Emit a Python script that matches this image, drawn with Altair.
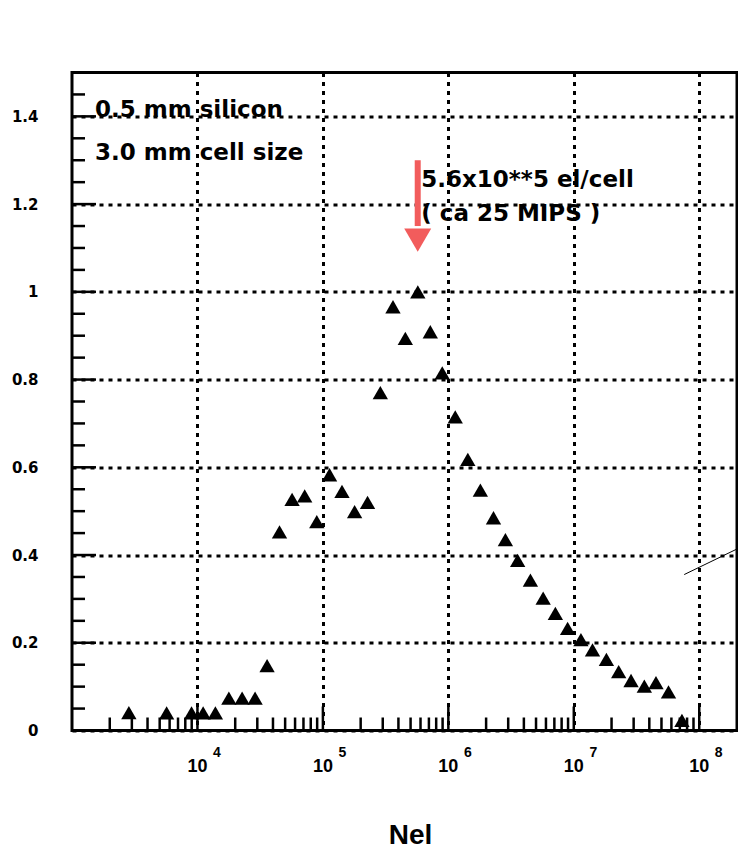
import altair as alt
import pandas as pd

# ---- data ----
nel = [2840, 5680, 8970, 11100, 13900, 17800, 22700, 28800, 35900, 45100,
       56800, 71600, 89400, 113000, 142000, 179000, 227000, 287000, 362000, 454000,
       571000, 718000, 894000, 1135000, 1430000, 1800000, 2290000, 2850000, 3570000, 4510000,
       5700000, 7130000, 8930000, 11400000, 14100000, 18200000, 22800000, 28600000, 36500000, 45200000,
       56900000, 72800000]
frac = [0.041, 0.040, 0.040, 0.040, 0.040, 0.074, 0.074, 0.074, 0.148, 0.453,
        0.527, 0.535, 0.476, 0.583, 0.545, 0.499, 0.520, 0.770, 0.966, 0.894,
        1.000, 0.909, 0.815, 0.715, 0.618, 0.548, 0.485, 0.435, 0.388, 0.343,
        0.302, 0.267, 0.233, 0.207, 0.184, 0.162, 0.134, 0.114, 0.101, 0.109,
        0.088, 0.023]

decades = [1e4, 1e5, 1e6, 1e7, 1e8]
decade_base = ["10", "10", "10", "10", "10"]
decade_exp = ["4", "5", "6", "7", "8"]
x_minor = [k * 10 ** e for e in range(3, 8) for k in range(2, 10)]
y_major = [0, 0.2, 0.4, 0.6, 0.8, 1.0, 1.2, 1.4]
y_minor = [round(0.05 * i, 2) for i in range(1, 30) if i % 4 != 0]

notes_text = ["0.5 mm silicon", "3.0 mm cell size", "5.6x10**5 el/cell", "( ca 25 MIPS )"]
notes_x = [1525, 1525, 608000, 608000]
notes_y = [1.399, 1.301, 1.240, 1.161]

arrow_x = [570000]
arrow_top = [1.30]
arrow_base = [1.15]
arrow_head = [1.118]

stray_x = [75900000]
stray_x2 = [237000000]
stray_y = [0.3555]
stray_y2 = [0.424]

W, H = 665, 658
xscale = alt.Scale(type="log", domain=[1000, 2e8])
yscale = alt.Scale(domain=[0, 1.5])

df = pd.DataFrame({"nel": nel, "frac": frac})

points = alt.Chart(df).mark_point(
    shape="triangle-up", filled=True, size=235, color="black", opacity=1
).encode(
    x=alt.X("nel:Q", scale=xscale, title="Nel",
            axis=alt.Axis(values=decades, grid=True, labels=False, ticks=False,
                          domain=False, title="Nel", titleFont="Liberation Sans",
                          titleFontSize=28, titleFontWeight="bold", titleColor="black",
                          titleX=338, titleY=113, titleBaseline="alphabetic",
                          titleAlign="center")),
    y=alt.Y("frac:Q", scale=yscale, title=" ",
            axis=alt.Axis(values=y_major, grid=True, ticks=False, domain=False,
                          format="~g", labelFont="DejaVu Sans", labelFontSize=15,
                          labelFontWeight="bold", labelColor="black", labelPadding=34,
                          title=" ")),
)

xmin_df = pd.DataFrame({"v": x_minor})
xmaj_df = pd.DataFrame({"v": decades, "b": decade_base, "e": decade_exp})
ymin_df = pd.DataFrame({"v": y_minor})
ymaj_df = pd.DataFrame({"v": y_major})

xminor_ticks = alt.Chart(xmin_df).mark_rule(color="black", strokeWidth=2.5).encode(
    x=alt.X("v:Q", scale=xscale, title="Nel"), y=alt.value(H), y2=alt.value(H - 13))
xmajor_ticks = alt.Chart(xmaj_df).mark_rule(color="black", strokeWidth=2.5).encode(
    x=alt.X("v:Q", scale=xscale, title="Nel"), y=alt.value(H), y2=alt.value(H - 24))
yminor_ticks = alt.Chart(ymin_df).mark_rule(color="black", strokeWidth=2.5).encode(
    y=alt.Y("v:Q", scale=yscale, title=" "), x=alt.value(0), x2=alt.value(13))
ymajor_ticks = alt.Chart(ymaj_df).mark_rule(color="black", strokeWidth=2.5).encode(
    y=alt.Y("v:Q", scale=yscale, title=" "), x=alt.value(0), x2=alt.value(24))

xlab_base = alt.Chart(xmaj_df).mark_text(
    font="Liberation Sans", fontSize=18, fontWeight="bold", color="black",
    align="center", baseline="alphabetic"
).encode(x=alt.X("v:Q", scale=xscale, title="Nel"), y=alt.value(H + 41), text="b:N")
xlab_exp = alt.Chart(xmaj_df).mark_text(
    font="Liberation Sans", fontSize=14, fontWeight="bold", color="black",
    align="center", baseline="alphabetic", dx=19.5
).encode(x=alt.X("v:Q", scale=xscale, title="Nel"), y=alt.value(H + 26), text="e:N")

notes_df = pd.DataFrame({"x": notes_x, "y": notes_y, "t": notes_text})
notes = alt.Chart(notes_df).mark_text(
    font="DejaVu Sans", fontSize=23, fontWeight="bold", color="black",
    align="left", baseline="alphabetic"
).encode(x=alt.X("x:Q", scale=xscale, title="Nel"),
         y=alt.Y("y:Q", scale=yscale, title=" "), text="t:N")

arrow_df = pd.DataFrame({"x": arrow_x, "y": arrow_top, "y2": arrow_base, "h": arrow_head})
arrow_shaft = alt.Chart(arrow_df).mark_rule(color="#f25c5c", strokeWidth=6).encode(
    x=alt.X("x:Q", scale=xscale, title="Nel"),
    y=alt.Y("y:Q", scale=yscale, title=" "), y2="y2:Q")
arrow_tip = alt.Chart(arrow_df).mark_point(
    shape="triangle-down", filled=True, size=729, color="#f25c5c", opacity=1
).encode(x=alt.X("x:Q", scale=xscale, title="Nel"),
         y=alt.Y("h:Q", scale=yscale, title=" "))

stray_df = pd.DataFrame({"x": stray_x, "x2": stray_x2, "y": stray_y, "y2": stray_y2})
stray = alt.Chart(stray_df).mark_rule(color="black", strokeWidth=1).encode(
    x=alt.X("x:Q", scale=xscale, title="Nel"), x2="x2:Q",
    y=alt.Y("y:Q", scale=yscale, title=" "), y2="y2:Q")

chart = alt.layer(
    points, xminor_ticks, xmajor_ticks, yminor_ticks, ymajor_ticks,
    xlab_base, xlab_exp, notes, arrow_shaft, arrow_tip, stray
).properties(
    width=W, height=H,
    autosize=alt.AutoSizeParams(type="none"),
    padding={"left": 64, "top": 64.5, "right": 1, "bottom": 121.5},
    background="white",
).configure_view(
    stroke="black", strokeWidth=3
).configure_axis(
    gridColor="black", gridDash=[4, 5], gridWidth=3, gridOpacity=1
)

chart.save("out.html", embed_options={"renderer": "svg", "actions": False})
